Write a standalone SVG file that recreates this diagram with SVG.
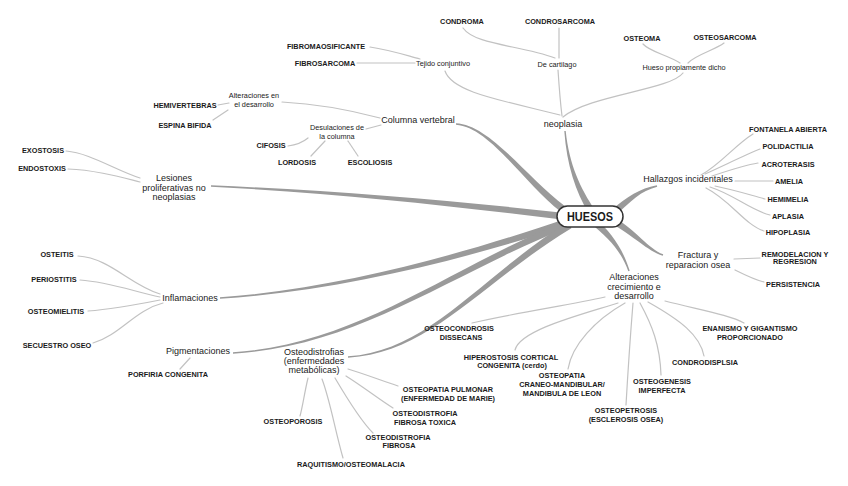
<svg xmlns="http://www.w3.org/2000/svg" width="848" height="486" viewBox="0 0 848 486">
<style>
.br{fill:#9a9a9a;stroke:none}
.ln{fill:none;stroke:#c2c2c2;stroke-width:1.2;stroke-linecap:round}
text{font-family:"Liberation Sans",Arial,sans-serif;fill:#1a1a1a;text-anchor:middle}
.lb{font-size:7.3px;font-weight:bold}
.sb{font-size:7.3px}
.mn{font-size:9px}
.hub{font-size:12px;font-weight:bold}
</style>
<rect width="848" height="486" fill="#fff"/>
<g id="connectors">
 <g id="branches">
  <path class="br" d="M456 124.7 C490 127.2 523.2 182.4 560.9 211.8 L565.1 206.2 C526.8 177.6 490 124.8 456 123.3 Z"/>
  <path class="br" d="M211 186.7 C340 193.2 450 205.8 570 220.5 L570 213.5 C450 200.2 340 190.8 211 185.3 Z"/>
  <path class="br" d="M220 298.7 C340 291.2 471 257.8 571.1 224.3 L568.9 217.7 C469 252.2 340 288.8 220 297.3 Z"/>
  <path class="br" d="M233 353.7 C360 346.2 451.5 272.6 571.7 226 L568.3 220 C448.5 267.4 360 343.8 233 352.3 Z"/>
  <path class="br" d="M348 357.7 C430 353.2 481.2 282.7 571.4 228.2 L568.6 221.8 C478.8 277.3 430 350.8 348 356.3 Z"/>
  <path class="br" d="M564.3 131 C566.8 165.1 575.5 191.6 589 213.9 L595 210.1 C580.5 188.4 569.2 164.9 565.7 131 Z"/>
  <path class="br" d="M656.8 185.3 C639.7 188.8 628 195.8 609.7 211.4 L614.3 216.6 C632 200.2 640.3 191.2 657.2 186.7 Z"/>
  <path class="br" d="M663.2 254.3 C648.4 248.9 636.5 230.4 613.7 217 L610.3 223 C633.5 235.6 647.6 251.1 662.8 255.7 Z"/>
  <path class="br" d="M629.7 270.8 C623.1 249.6 611.9 232.7 594.2 217.3 L589.8 222.7 C608.1 237.3 620.9 250.4 628.3 271.2 Z"/>
 </g>
 <g id="links">
  <path class="ln" d="M463 28 C475 45 520 45 555 58"/>
  <path class="ln" d="M559 28 L559 58"/>
  <path class="ln" d="M558 70 C559 85 560 100 562 116"/>
  <path class="ln" d="M370 47 C390 50 405 55 420 59"/>
  <path class="ln" d="M357 63 L415 63"/>
  <path class="ln" d="M445 71 C452 92 500 100 560 115"/>
  <path class="ln" d="M643 44 C650 52 668 55 680 63"/>
  <path class="ln" d="M724 43 C715 50 695 55 688 63"/>
  <path class="ln" d="M683 73 C670 90 590 95 563 117"/>
  <path class="ln" d="M282 102 C320 104 350 110 380 118"/>
  <path class="ln" d="M218 105 L229 103"/>
  <path class="ln" d="M213 120 L228 110"/>
  <path class="ln" d="M366 129 L381 125"/>
  <path class="ln" d="M288 146 C296 145 302 143 308 138"/>
  <path class="ln" d="M311 156 L325 141"/>
  <path class="ln" d="M358 156 L348 141"/>
  <path class="ln" d="M66 151 C90 153 115 170 140 178"/>
  <path class="ln" d="M68 169 C95 170 120 177 140 182"/>
  <path class="ln" d="M701 175 C720 165 735 145 753 134"/>
  <path class="ln" d="M705 174 C725 165 745 155 760 149"/>
  <path class="ln" d="M712 176 C730 170 745 165 758 163"/>
  <path class="ln" d="M735 181 L773 181"/>
  <path class="ln" d="M715 186 C735 190 750 195 765 199"/>
  <path class="ln" d="M710 187 C735 195 750 210 770 215"/>
  <path class="ln" d="M706 188 C730 200 745 225 764 231"/>
  <path class="ln" d="M734 259 L760 258"/>
  <path class="ln" d="M735 270 C745 275 755 280 764 282"/>
  <path class="ln" d="M472 323 C520 312 570 305 605 297"/>
  <path class="ln" d="M515 350 C520 330 580 315 618 303"/>
  <path class="ln" d="M568 369 C572 345 595 320 625 303"/>
  <path class="ln" d="M626 405 C628 370 630 340 633 303"/>
  <path class="ln" d="M661 375 C660 345 652 325 640 303"/>
  <path class="ln" d="M704 356 C700 335 680 320 648 302"/>
  <path class="ln" d="M744 323 C730 315 700 310 665 301"/>
  <path class="ln" d="M78 256 C110 258 130 285 160 294"/>
  <path class="ln" d="M80 280 C110 282 135 292 160 297"/>
  <path class="ln" d="M88 311 C115 309 140 304 160 300"/>
  <path class="ln" d="M93 343 C120 335 135 310 163 303"/>
  <path class="ln" d="M180 369 L190 358"/>
  <path class="ln" d="M348 369 C365 374 385 382 398 386"/>
  <path class="ln" d="M346 376 C365 388 380 400 393 408"/>
  <path class="ln" d="M335 378 C345 395 360 420 373 433"/>
  <path class="ln" d="M308 378 C304 395 303 405 300 416"/>
  <path class="ln" d="M322 379 C330 400 335 430 343 458"/>
 </g>
</g>
<g id="huesos">
 <rect x="557" y="206" width="66" height="21" rx="10.5" fill="#fff" stroke="#333" stroke-width="1.5"/>
 <text class="hub" x="590" y="221" textLength="46" lengthAdjust="spacingAndGlyphs">HUESOS</text>
</g>
<g id="neoplasia"><text class="mn" x="563" y="127">neoplasia</text></g>
<g id="tejido"><text class="sb" x="443" y="66">Tejido conjuntivo</text></g>
<g id="cartilago"><text class="sb" x="557" y="67">De cartilago</text></g>
<g id="hueso-propio"><text class="sb" x="684" y="70">Hueso propiamente dicho</text></g>
<g id="condroma"><text class="lb" x="462" y="24">CONDROMA</text></g>
<g id="condrosarcoma"><text class="lb" x="560" y="24">CONDROSARCOMA</text></g>
<g id="fibromaosificante"><text class="lb" x="326" y="49">FIBROMAOSIFICANTE</text></g>
<g id="fibrosarcoma"><text class="lb" x="325" y="66">FIBROSARCOMA</text></g>
<g id="osteoma"><text class="lb" x="642" y="41">OSTEOMA</text></g>
<g id="osteosarcoma"><text class="lb" x="725" y="40">OSTEOSARCOMA</text></g>
<g id="columna"><text class="mn" x="418" y="123">Columna vertebral</text></g>
<g id="alt-desarrollo"><text class="sb" x="254" y="98">Alteraciones en</text><text class="sb" x="254" y="107">el desarrollo</text></g>
<g id="hemivertebras"><text class="lb" x="185" y="108">HEMIVERTEBRAS</text></g>
<g id="espina"><text class="lb" x="185" y="128">ESPINA BIFIDA</text></g>
<g id="desulaciones"><text class="sb" x="337" y="130">Desulaciones de</text><text class="sb" x="337" y="139">la columna</text></g>
<g id="cifosis"><text class="lb" x="271" y="148">CIFOSIS</text></g>
<g id="lordosis"><text class="lb" x="297" y="165">LORDOSIS</text></g>
<g id="escoliosis"><text class="lb" x="370" y="165">ESCOLIOSIS</text></g>
<g id="lesiones"><text class="mn" x="174" y="181">Lesiones</text><text class="mn" x="174" y="190.5">proliferativas no</text><text class="mn" x="174" y="200">neoplasias</text></g>
<g id="exostosis"><text class="lb" x="43" y="153">EXOSTOSIS</text></g>
<g id="endostoxis"><text class="lb" x="42" y="171">ENDOSTOXIS</text></g>
<g id="hallazgos"><text class="mn" x="688" y="182">Hallazgos incidentales</text></g>
<g id="fontanela"><text class="lb" x="788" y="132">FONTANELA ABIERTA</text></g>
<g id="polidactilia"><text class="lb" x="788" y="149">POLIDACTILIA</text></g>
<g id="acroterasis"><text class="lb" x="788" y="167">ACROTERASIS</text></g>
<g id="amelia"><text class="lb" x="789" y="184">AMELIA</text></g>
<g id="hemimelia"><text class="lb" x="788" y="202">HEMIMELIA</text></g>
<g id="aplasia"><text class="lb" x="788" y="219">APLASIA</text></g>
<g id="hipoplasia"><text class="lb" x="788" y="235">HIPOPLASIA</text></g>
<g id="fractura"><text class="mn" x="698" y="258">Fractura y</text><text class="mn" x="698" y="268">reparacion osea</text></g>
<g id="remodelacion"><text class="lb" x="795" y="256.5">REMODELACION Y</text><text class="lb" x="795" y="264">REGRESION</text></g>
<g id="persistencia"><text class="lb" x="793" y="287">PERSISTENCIA</text></g>
<g id="alt-crecimiento"><text class="mn" x="634" y="280">Alteraciones</text><text class="mn" x="634" y="290">crecimiento e</text><text class="mn" x="634" y="299">desarrollo</text></g>
<g id="osteocondrosis"><text class="lb" x="459" y="331">OSTEOCONDROSIS</text><text class="lb" x="461" y="340">DISSECANS</text></g>
<g id="hiperostosis"><text class="lb" x="511" y="359.5">HIPEROSTOSIS CORTICAL</text><text class="lb" x="512" y="368">CONGENITA (cerdo)</text></g>
<g id="osteopatia-craneo"><text class="lb" x="562" y="378">OSTEOPATIA</text><text class="lb" x="562" y="387">CRANEO-MANDIBULAR/</text><text class="lb" x="562" y="396">MANDIBULA DE LEON</text></g>
<g id="osteopetrosis"><text class="lb" x="626" y="413">OSTEOPETROSIS</text><text class="lb" x="626" y="422">(ESCLEROSIS OSEA)</text></g>
<g id="osteogenesis"><text class="lb" x="662" y="384">OSTEOGENESIS</text><text class="lb" x="662" y="393">IMPERFECTA</text></g>
<g id="condrodisplsia"><text class="lb" x="705" y="365">CONDRODISPLSIA</text></g>
<g id="enanismo"><text class="lb" x="750" y="330.5">ENANISMO Y GIGANTISMO</text><text class="lb" x="750" y="339.5">PROPORCIONADO</text></g>
<g id="inflamaciones"><text class="mn" x="190" y="301">Inflamaciones</text></g>
<g id="osteitis"><text class="lb" x="57" y="257">OSTEITIS</text></g>
<g id="periostitis"><text class="lb" x="54" y="282">PERIOSTITIS</text></g>
<g id="osteomielitis"><text class="lb" x="56" y="314">OSTEOMIELITIS</text></g>
<g id="secuestro"><text class="lb" x="57" y="348">SECUESTRO OSEO</text></g>
<g id="pigmentaciones"><text class="mn" x="198" y="354">Pigmentaciones</text></g>
<g id="porfiria"><text class="lb" x="168" y="377">PORFIRIA CONGENITA</text></g>
<g id="osteodistrofias"><text class="mn" x="314" y="355">Osteodistrofias</text><text class="mn" x="314" y="364">(enfermedades</text><text class="mn" x="314" y="373">metabólicas)</text></g>
<g id="pulmonar"><text class="lb" x="448" y="392">OSTEOPATIA PULMONAR</text><text class="lb" x="448" y="401">(ENFERMEDAD DE MARIE)</text></g>
<g id="fibrosa-toxica"><text class="lb" x="425" y="416">OSTEODISTROFIA</text><text class="lb" x="425" y="424.5">FIBROSA TOXICA</text></g>
<g id="fibrosa"><text class="lb" x="398" y="440">OSTEODISTROFIA</text><text class="lb" x="399" y="448">FIBROSA</text></g>
<g id="osteoporosis"><text class="lb" x="293" y="424">OSTEOPOROSIS</text></g>
<g id="raquitismo"><text class="lb" x="351" y="467">RAQUITISMO/OSTEOMALACIA</text></g>
</svg>
